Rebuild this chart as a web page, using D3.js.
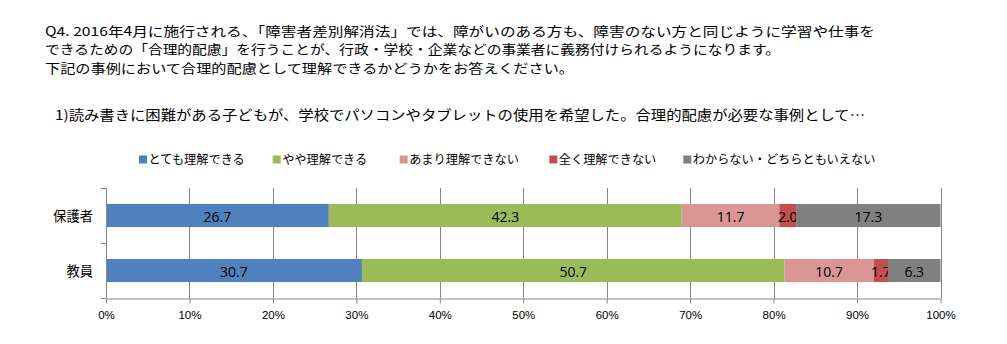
<!DOCTYPE html>
<html><head><meta charset="utf-8">
<script src="https://cdn.jsdelivr.net/npm/d3@7"></script>
<style>
html,body{margin:0;padding:0;background:#fff;}
svg{display:block;}
</style></head>
<body>
<script>
const titleLines = [
  "Q4. 2016年4月に施行される、「障害者差別解消法」では、障がいのある方も、障害のない方と同じように学習や仕事を",
  "できるための「合理的配慮」を行うことが、行政・学校・企業などの事業者に義務付けられるようになります。",
  "下記の事例において合理的配慮として理解できるかどうかをお答えください。"
];
const subtitle = "1)読み書きに困難がある子どもが、学校でパソコンやタブレットの使用を希望した。合理的配慮が必要な事例として…";
const categories = ["保護者", "教員"];
const seriesNames = ["とても理解できる", "やや理解できる", "あまり理解できない", "全く理解できない", "わからない・どちらともいえない"];
const colors = ["#4F81BD", "#9BBB59", "#D99694", "#C0504D", "#808080"];
const guardianValues = [26.7, 42.3, 11.7, 2.0, 17.3];
const teacherValues = [30.7, 50.7, 10.7, 1.7, 6.3];
const tickValues = [0, 10, 20, 30, 40, 50, 60, 70, 80, 90, 100];

const W = 1007, H = 344;
const svg = d3.select("body").append("svg").attr("width", W).attr("height", H);

const cjk = "'Noto Sans CJK JP', 'Noto Sans', sans-serif";

// Title
const titleY = [30, 48.5, 67];
const titleEnds = [875, 780, 574];
titleLines.forEach((t, i) => {
  svg.append("text").attr("x", 45).attr("y", titleY[i])
    .attr("dominant-baseline", "central")
    .attr("font-family", cjk).attr("font-size", 12.7).attr("fill", "#000")
    .attr("textLength", titleEnds[i] - 45).attr("lengthAdjust", "spacingAndGlyphs")
    .text(t);
});
svg.append("text").attr("x", 55).attr("y", 114)
  .attr("dominant-baseline", "central")
  .attr("font-family", cjk).attr("font-size", 13.5).attr("fill", "#000")
  .attr("textLength", 865 - 55).attr("lengthAdjust", "spacingAndGlyphs")
  .text(subtitle);

// Legend
const legendX = [139, 272.7, 399.7, 549.3, 683.3];
const lg = svg.append("g");
seriesNames.forEach((s, i) => {
  lg.append("rect").attr("x", legendX[i]).attr("y", 155.5).attr("width", 8).attr("height", 8).attr("fill", colors[i]);
  lg.append("text").attr("x", legendX[i] + 9.5).attr("y", 158.5)
    .attr("dominant-baseline", "central")
    .attr("font-family", cjk).attr("font-size", 12.2).attr("fill", "#000").text(s);
});

// Scales
const x = d3.scaleLinear().domain([0, 100]).range([106, 940.5]);
const y = d3.scaleBand().domain(categories).range([188, 298]).paddingInner(0.58).paddingOuter(0.29);

// gridlines
svg.append("g").selectAll("line").data(tickValues.slice(1)).join("line")
  .attr("x1", d => Math.round(x(d)) + 0.5).attr("x2", d => Math.round(x(d)) + 0.5)
  .attr("y1", 188).attr("y2", 298).attr("stroke", "#868686").attr("stroke-width", 1);

// Bars
const data = [guardianValues, teacherValues];
data.forEach((vals, ci) => {
  const total = d3.sum(vals);
  let acc = 0;
  const g = svg.append("g");
  vals.forEach((v, si) => {
    const p0 = acc / total * 100, p1 = (acc + v) / total * 100;
    acc += v;
    g.append("rect").attr("x", x(p0)).attr("width", x(p1) - x(p0))
      .attr("y", y(categories[ci])).attr("height", y.bandwidth())
      .attr("fill", colors[si]);
    g.append("text").attr("x", x((p0 + p1) / 2)).attr("y", y(categories[ci]) + y.bandwidth() / 2 + 0.5)
      .attr("text-anchor", "middle").attr("dominant-baseline", "central")
      .attr("font-family", "'Open Sans', 'Liberation Sans', sans-serif").attr("font-size", 14)
      .attr("fill", "#000").text(v.toFixed(1));
  });
});

// Y axis
const yAxis = svg.append("g");
yAxis.append("line").attr("x1", 106.5).attr("x2", 106.5).attr("y1", 188).attr("y2", 298).attr("stroke", "#868686");
[188, 242.5, 298].forEach(yy => {
  yAxis.append("line").attr("x1", 101).attr("x2", 106.5).attr("y1", Math.round(yy) + 0.5).attr("y2", Math.round(yy) + 0.5).attr("stroke", "#868686");
});
categories.forEach(c => {
  yAxis.append("text").attr("x", 93).attr("y", y(c) + y.bandwidth() / 2)
    .attr("text-anchor", "end").attr("dominant-baseline", "central")
    .attr("font-family", cjk).attr("font-size", 13.3).attr("fill", "#000").text(c);
});

// X axis
const xAxis = svg.append("g").attr("transform", "translate(0,298.5)")
  .call(d3.axisBottom(x).tickValues(tickValues).tickFormat(d => d + "%").tickSize(5).tickSizeOuter(0));
xAxis.select(".domain").attr("stroke", "#868686");
xAxis.selectAll(".tick line").attr("stroke", "#868686");
xAxis.selectAll(".tick text").attr("font-family", "'Liberation Sans Narrow', 'Liberation Sans', sans-serif")
  .attr("font-size", 11.5).attr("fill", "#000").attr("dy", "0").attr("y", 20);
</script>
</body></html>
